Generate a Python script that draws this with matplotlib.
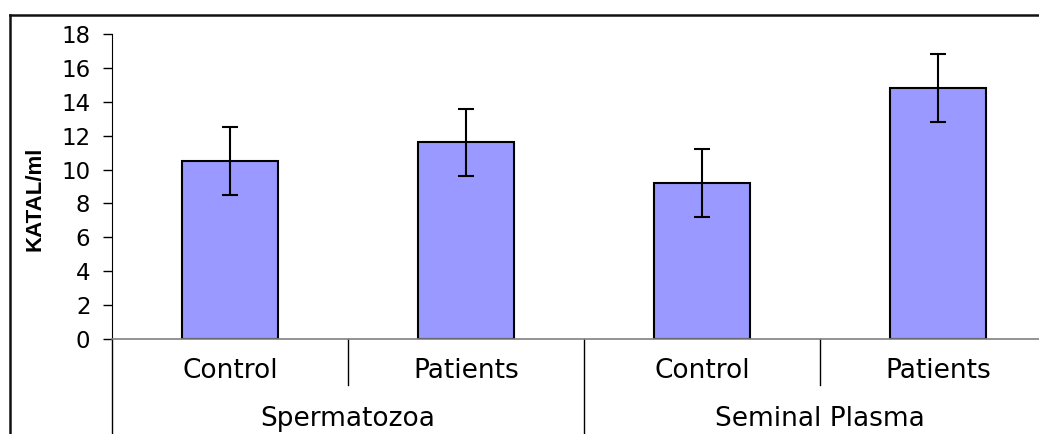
import matplotlib
matplotlib.use("Agg")
import matplotlib.pyplot as plt
from matplotlib.transforms import blended_transform_factory
from matplotlib.lines import Line2D

plt.rcParams['font.family'] = ['DejaVu Sans']

groups = ['Spermatozoa', 'Seminal Plasma']
subgroups = ['Control', 'Patients', 'Control', 'Patients']
values = [10.5, 11.6, 9.2, 14.8]
errors = [2.0, 2.0, 2.0, 2.0]

W, H = 1039, 434
fig = plt.figure(figsize=(W / 100, H / 100), dpi=100)
ax = fig.add_axes([112 / W, (H - 339) / H, 944 / W, 305 / H])

x = list(range(len(values)))
ax.bar(x, values, width=0.41, color='#9999FF', edgecolor='black', linewidth=1.5,
       yerr=errors, capsize=6, error_kw=dict(elinewidth=1.5, capthick=1.5, ecolor='black'))

ax.set_xlim(-0.5, 3.5)
ax.set_ylim(0, 18)
ax.set_yticks(range(0, 19, 2))
ax.set_xticks([])
ax.tick_params(axis='y', length=6.5, width=1, pad=9, labelsize=16.5, direction='out')

for s in ['top', 'right']:
    ax.spines[s].set_visible(False)
ax.spines['left'].set_color('black')
ax.spines['bottom'].set_color('#808080')
ax.spines['bottom'].set_linewidth(1.2)

# two-level category axis
tr = blended_transform_factory(ax.transData, ax.transAxes)
for i, lab in enumerate(subgroups):
    ax.text(i, -0.105, lab, transform=tr, ha='center', va='center', fontsize=19)
for g, lab in enumerate(groups):
    ax.text(2 * g + 0.5, -0.262, lab, transform=tr, ha='center', va='center', fontsize=19)
for xd in [0.5, 2.5]:
    ax.add_line(Line2D([xd, xd], [0, -0.151], transform=tr, color='black', lw=1, clip_on=False))
for xd in [-0.5, 1.5]:
    ax.add_line(Line2D([xd, xd], [0, -0.35], transform=tr, color='black', lw=1, clip_on=False))

fig.text(35 / W, 1 - 199 / H, 'KATAL/ml', rotation=90, ha='center', va='center',
         fontsize=16, fontweight='bold', family='Liberation Sans')

# outer chart frame (partly cropped)
fig.add_artist(Line2D([10 / W, 1.0], [1 - 15 / H, 1 - 15 / H], transform=fig.transFigure,
                      color='#111111', lw=1.8))
fig.add_artist(Line2D([10 / W, 10 / W], [0, 1 - 15 / H], transform=fig.transFigure,
                      color='#111111', lw=1.8))

fig.savefig('out.png', dpi=100)
